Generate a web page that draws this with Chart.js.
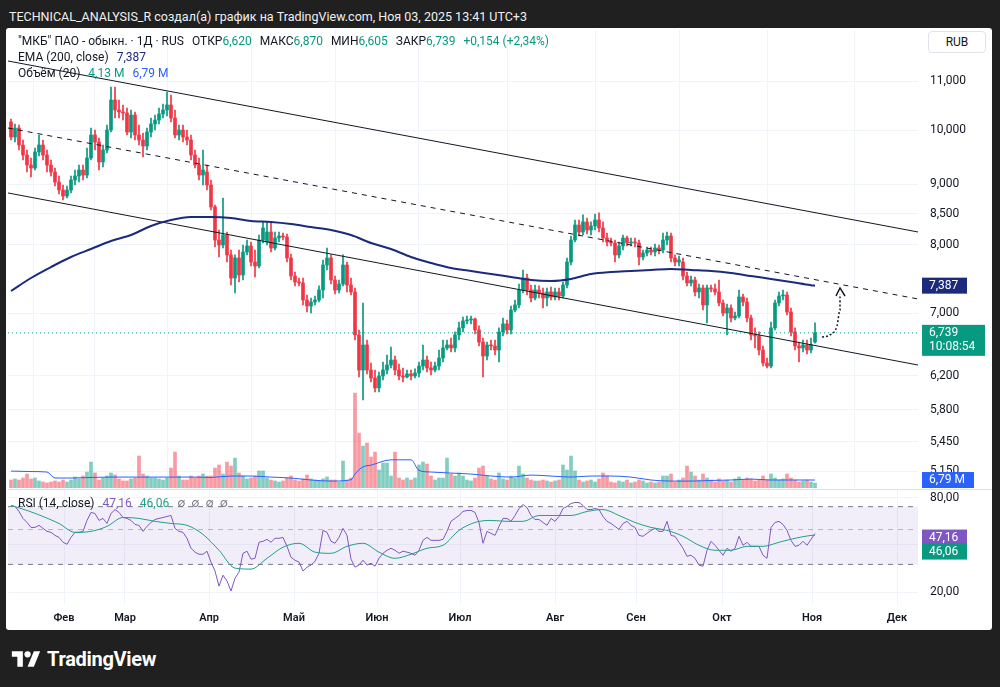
<!DOCTYPE html>
<html lang="ru">
<head>
<meta charset="utf-8">
<title>МКБ - TradingView</title>
<script src="https://cdn.jsdelivr.net/npm/chart.js@4.4.1/dist/chart.umd.min.js"></script>
<style>
body{margin:0;width:1000px;height:687px;background:#202020;overflow:hidden;position:relative;font-family:Roboto,Inter,"Noto Sans",Arial,sans-serif}
#hdr{position:absolute;left:9px;top:9px;color:#f0f0f0;font-size:12.5px;white-space:nowrap}
#panel{position:absolute;left:6px;top:28px;width:986px;height:602px;background:#fff;border-radius:3px}
canvas{position:absolute;left:8px}
#pc{top:28px}
#rc{top:489px}
.lg{position:absolute;left:18px;font-size:12px;color:#131722;white-space:nowrap;line-height:16px}
.sp{display:inline-block;width:8px}
#rub{position:absolute;left:928px;top:31px;width:58px;height:22px;border:1px solid #e0e3eb;border-radius:4px;box-sizing:border-box;font-size:12px;color:#131722;text-align:center;line-height:20px;background:#fff}
#logo{position:absolute;left:11px;top:647px;color:#fff;font-size:20px;font-weight:700;display:flex;align-items:center;gap:6px;letter-spacing:-0.3px}
</style>
</head>
<body>
<div id="hdr">TECHNICAL_ANALYSIS_R создал(а) график на TradingView.com, Ноя 03, 2025 13:41 UTC+3</div>
<div id="panel"></div>
<canvas id="pc" width="984" height="461"></canvas>
<canvas id="rc" width="984" height="141"></canvas>
<div class="lg" style="top:33px" id="lg1"></div>
<div class="lg" style="top:49px" id="lg2"></div>
<div class="lg" style="top:65px" id="lg3"></div>
<div class="lg" style="top:495px" id="lg4"></div>
<div id="rub">RUB</div>
<div id="logo"><svg width="30" height="22" viewBox="0 0 36 28"><path d="M14 24H7V11H0V4h14z" fill="#fff"/><circle cx="20" cy="8" r="4" fill="#fff"/><path d="M28 4l-8 20h8L36 4z" fill="#fff"/></svg>TradingView</div>
<script>
// daily candles, MKB (RUB)
var opens = [
 10.157,9.865,10.039,9.712,9.525,9.342,9.288,9.581,9.712,9.525,
 9.342,9.215,9.038,8.898,8.795,8.898,9.073,9.144,9.251,9.162,
 9.470,9.904,9.769,9.397,9.618,10.000,10.601,10.397,10.357,10.337,
 9.961,10.296,9.904,9.807,9.694,9.961,10.118,10.196,10.317,10.397,
 10.499,10.236,9.904,10.000,9.865,9.807,9.525,9.342,9.162,9.215,
 8.986,8.609,8.073,7.995,8.152,7.842,7.498,7.796,7.542,7.887,
 7.980,7.735,7.675,8.073,8.042,8.200,7.949,8.105,8.136,8.121,
 7.796,7.527,7.440,7.426,7.184,7.101,7.156,7.184,7.325,7.690,
 7.796,7.469,7.325,7.411,7.690,7.397,7.297,6.712,6.269,6.582,
 6.269,6.172,6.054,6.197,6.269,6.330,6.392,6.269,6.197,6.184,
 6.221,6.197,6.233,6.318,6.392,6.294,6.269,6.318,6.417,6.544,
 6.582,6.544,6.712,6.804,6.897,6.910,6.923,6.777,6.620,6.442,
 6.582,6.569,6.518,6.751,6.857,6.777,7.045,7.115,7.325,7.498,
 7.325,7.212,7.325,7.283,7.212,7.297,7.226,7.297,7.240,7.397,
 7.735,8.073,8.313,8.200,8.362,8.232,8.297,8.394,8.264,8.105,
 8.042,8.026,7.842,7.980,8.105,8.026,8.042,8.026,7.811,7.872,
 7.918,7.887,7.949,7.918,8.073,8.136,7.796,7.735,7.735,7.527,
 7.426,7.469,7.297,7.354,7.115,7.354,7.340,7.297,7.142,7.004,
 7.073,6.937,6.964,7.226,7.156,6.937,6.712,6.698,6.518,6.355,
 6.318,6.804,7.142,7.240,7.254,7.018,6.751,6.569,6.544,6.582,
 6.518,6.620];
var highs = [
 10.216,10.118,10.098,9.807,9.618,9.470,9.656,9.904,9.807,9.618,
 9.433,9.288,9.144,8.986,8.968,9.144,9.251,9.342,9.342,9.656,
 10.039,10.000,9.846,9.712,10.098,10.873,10.873,10.601,10.499,10.438,
 10.397,10.357,10.098,9.942,10.039,10.236,10.296,10.438,10.519,10.767,
 10.705,10.397,10.098,10.098,10.000,9.904,9.618,9.470,9.618,9.342,
 9.073,8.643,8.232,8.761,8.200,7.918,7.842,7.918,7.995,8.073,
 8.042,7.918,8.152,8.362,8.362,8.362,8.200,8.200,8.184,8.168,
 7.857,7.586,7.498,7.498,7.254,7.212,7.240,7.383,7.765,7.949,
 7.842,7.527,7.469,7.842,7.735,7.498,7.354,6.777,7.142,6.646,
 6.355,6.269,6.245,6.367,6.455,6.556,6.442,6.343,6.294,6.269,
 6.269,6.282,6.367,6.582,6.442,6.367,6.367,6.518,6.646,6.646,
 6.672,6.751,6.883,6.950,6.964,6.964,6.937,6.830,6.672,6.620,
 6.646,6.646,6.804,6.937,6.910,7.101,7.184,7.411,7.615,7.556,
 7.397,7.397,7.383,7.354,7.354,7.368,7.354,7.354,7.440,7.796,
 8.136,8.394,8.394,8.477,8.427,8.362,8.493,8.510,8.362,8.184,
 8.105,8.073,8.042,8.152,8.136,8.105,8.105,8.073,7.918,7.964,
 7.964,8.011,7.995,8.184,8.200,8.184,7.842,7.826,7.796,7.586,
 7.527,7.513,7.411,7.397,7.397,7.397,7.411,7.469,7.184,7.128,
 7.115,7.018,7.325,7.268,7.212,6.977,6.804,6.751,6.569,6.417,
 6.883,7.184,7.297,7.325,7.297,7.073,6.804,6.620,6.646,6.646,
 6.672,6.870];
var lows = [
 9.807,9.769,9.618,9.433,9.215,9.126,9.251,9.507,9.433,9.215,
 9.144,8.968,8.830,8.727,8.761,8.847,8.986,9.038,9.073,9.109,
 9.433,9.618,9.251,9.306,9.562,9.961,10.236,10.236,10.196,9.904,
 9.846,9.807,9.712,9.488,9.618,9.865,10.000,10.118,10.236,10.276,
 10.157,9.846,9.807,9.769,9.712,9.433,9.288,9.073,8.986,8.898,
 8.559,7.964,7.811,7.949,7.735,7.397,7.283,7.440,7.469,7.842,
 7.675,7.513,7.645,8.026,7.995,7.887,7.918,8.042,8.073,7.735,
 7.469,7.383,7.383,7.115,7.018,7.004,7.115,7.156,7.212,7.615,
 7.411,7.268,7.283,7.383,7.297,7.254,6.646,6.184,5.914,6.221,
 6.124,6.007,6.007,6.148,6.221,6.294,6.209,6.148,6.124,6.172,
 6.148,6.172,6.184,6.269,6.245,6.209,6.245,6.269,6.367,6.518,
 6.493,6.493,6.646,6.751,6.857,6.857,6.725,6.569,6.184,6.392,
 6.518,6.455,6.367,6.698,6.725,6.725,7.018,7.073,7.283,7.254,
 7.156,7.184,7.212,7.073,7.101,7.184,7.184,7.184,7.212,7.354,
 7.690,8.042,8.136,8.152,8.168,8.152,8.232,8.200,8.042,7.980,
 7.980,7.735,7.796,7.918,7.980,7.980,7.964,7.690,7.765,7.826,
 7.842,7.826,7.857,7.872,7.995,7.735,7.675,7.675,7.469,7.383,
 7.383,7.240,7.212,7.045,6.870,7.297,7.254,7.101,6.964,6.712,
 6.883,6.910,6.937,7.101,6.883,6.646,6.544,6.455,6.318,6.294,
 6.294,6.777,7.101,7.184,6.977,6.698,6.518,6.367,6.493,6.468,
 6.480,6.605];
var closes = [
 9.865,10.039,9.712,9.525,9.342,9.288,9.581,9.712,9.525,9.342,
 9.215,9.038,8.898,8.795,8.898,9.073,9.144,9.251,9.162,9.470,
 9.904,9.769,9.397,9.618,10.000,10.601,10.397,10.357,10.337,9.961,
 10.296,9.904,9.807,9.694,9.961,10.118,10.196,10.317,10.397,10.499,
 10.236,9.904,10.000,9.865,9.807,9.525,9.342,9.162,9.251,8.986,
 8.609,8.073,7.995,8.152,7.842,7.498,7.796,7.542,7.887,7.980,
 7.735,7.675,8.073,8.264,8.200,7.949,8.105,8.136,8.121,7.796,
 7.527,7.440,7.426,7.184,7.101,7.156,7.184,7.325,7.690,7.796,
 7.469,7.325,7.411,7.690,7.397,7.297,6.712,6.269,6.582,6.269,
 6.172,6.054,6.197,6.269,6.330,6.392,6.269,6.197,6.184,6.221,
 6.197,6.233,6.318,6.392,6.294,6.269,6.318,6.417,6.544,6.582,
 6.544,6.712,6.804,6.897,6.910,6.923,6.777,6.620,6.442,6.582,
 6.569,6.518,6.751,6.857,6.777,7.045,7.115,7.325,7.498,7.325,
 7.212,7.325,7.283,7.212,7.297,7.226,7.297,7.240,7.397,7.735,
 8.073,8.313,8.200,8.362,8.232,8.297,8.394,8.264,8.105,8.042,
 8.026,7.842,7.980,8.105,8.026,8.042,8.026,7.811,7.872,7.918,
 7.887,7.949,7.918,8.073,8.136,7.796,7.735,7.765,7.527,7.426,
 7.469,7.297,7.354,7.115,7.354,7.340,7.297,7.142,7.004,7.073,
 6.937,6.964,7.226,7.156,6.937,6.712,6.698,6.518,6.355,6.318,
 6.804,7.142,7.240,7.254,7.018,6.751,6.569,6.544,6.582,6.518,
 6.585,6.739];
// volume, millions
var volumes = [
 6.8,7.7,6.8,8.5,11.9,7.7,8.5, 6.0,5.1,4.3,5.1,6.0,5.1,6.8,
 5.1,6.8,9.4,7.7,10.2,13.6,22.1, 12.8,6.8,8.5,10.2,12.8,11.1,7.7,6.0,
 6.0,7.7,8.5,27.2,11.9,10.2,8.5, 8.5,7.7,6.8,8.5,17.0,30.6,10.2,
 6.8,6.8,10.2,8.5,10.2,11.9,10.2, 10.2,17.0,19.6,11.9,22.1,18.7,25.5,
 12.8,10.2,7.7,8.5,10.2,14.5,14.5, 8.5,6.8,6.0,5.1,6.0,8.5,10.2,
 6.8,6.0,7.7,11.1,7.7,6.8,6.0, 7.7,9.4,6.8,6.8,5.1,23.0,6.8,8.5,
 80.8,46.8,35.7,38.3,26.4,30.6, 15.3,21.3,21.3,10.2,30.6,8.5,6.8,8.5,
 6.8,8.5,19.6,22.1,20.4,10.2,6.8, 8.5,8.5,25.5,11.9,10.2,12.8,10.2,
 6.8,6.0,8.5,17.0,18.7,10.2,7.7, 6.8,12.8,7.7,6.8,10.2,8.5,18.7,
 11.9,8.5,6.8,6.0,6.0,6.8,6.0, 5.1,6.0,6.8,19.6,15.3,27.2,14.5,
 6.8,5.1,6.0,6.8,5.1,7.7,12.8, 10.2,5.1,4.3,6.0,5.1,6.8,4.3,5.1,
 6.8,6.0,4.3,5.1,4.3,5.1,10.2, 10.2,11.9,5.1,6.8,8.5,18.7,13.6,
 10.2,6.8,11.9,8.5,6.8,5.1,7.7, 6.0,6.8,5.1,7.7,9.4,6.8,8.5,
 7.7,6.0,6.8,10.2,6.8,11.9,8.5, 6.8,7.7,11.9,8.5,6.8,5.1,6.0,
 6.8,5.1,4.13];

// EMA(200) sampled along the line
var emaIdx = [0,5,10,15,20,25,30,35,40,45,50,55,60,65,70,75,80,85,90,95,100,105,110,115,120,125,130,135,140,145,150,155,160,165,170,175,180,185,190,195,200,201];
var emaVals = [7.311,7.498,7.660,7.811,7.933,8.057,8.152,8.297,8.394,8.443,
 8.443,8.427,8.378,8.362,8.329,8.280,8.232,8.152,8.026,7.933,
 7.811,7.720,7.645,7.601,7.556,7.513,7.469,7.455,7.484,7.556,
 7.586,7.601,7.615,7.630,7.615,7.601,7.571,7.527,7.484,7.440,
 7.394,7.387];

// volume SMA(20)
var volMaIdx = [0,5,9,11,15,20,25,30,35,40,45,50,55,60,65,70,75,80,85,86,88,90,95,100,102,105,110,115,120,125,130,135,140,145,150,155,160,165,170,175,180,185,190,195,200,201];
var volMaVals = [14.4,14.0,13.6,8.5,8.5,9.0,9.3,9.3,9.3,9.3,9.3,9.0,10.2,10.2,9.3,8.5,6.8,5.9,7.0,12,18,19.5,24,24,15,13.6,12.7,11.9,10.2,9.3,11.0,10.2,9.3,10.2,10.2,9.3,6.8,5.9,5.9,6.4,6.8,7.6,6.8,6.8,6.8,6.79];

// RSI(14) per bar
var rsiVals = [
 71.2,70.2,65.2,58.9,55.5,51.6,51.6,53.2,50.9,48.7,
 48.0,45.9,44.6,41.5,40.3,44.6,48.0,48.0,48.7,57.2,
 64.3,63.3,57.2,58.9,54.7,63.3,67.1,64.3,59.7,58.9,
 57.2,53.9,53.2,48.7,52.4,55.5,58.0,58.9,59.7,60.6,
 61.5,50.9,48.7,48.0,44.0,38.0,35.9,34.8,34.8,36.4,
 31.0,27.2,21.8,25.6,23.5,20.3,24.5,26.8,35.3,36.4,
 32.4,32.8,41.5,42.1,43.3,41.5,44.0,44.0,44.6,39.1,
 33.3,31.9,31.0,27.2,28.8,29.7,31.4,35.3,49.4,48.0,
 42.1,40.9,44.6,50.9,45.9,32.4,28.8,29.7,31.9,29.7,
 30.5,29.2,32.8,35.3,36.9,38.0,36.9,35.3,36.4,35.9,
 35.3,34.3,36.9,42.7,44.6,42.7,42.7,42.7,43.3,48.7,
 56.4,58.9,61.5,65.2,66.2,66.2,64.3,55.5,40.9,48.7,
 47.3,45.9,52.4,58.9,58.9,56.4,61.5,68.1,72.2,69.1,
 61.5,58.0,58.0,55.5,53.2,58.9,56.4,60.6,68.1,70.2,
 73.3,74.4,74.4,71.2,67.1,67.1,68.1,67.1,60.6,56.4,
 54.7,52.4,50.1,54.7,56.4,53.2,51.6,45.9,45.3,47.3,
 49.4,50.9,48.7,48.7,56.4,45.9,45.3,41.5,38.0,33.8,
 34.3,32.8,29.7,29.2,36.9,42.1,39.7,36.9,34.3,38.0,
 36.4,38.0,45.3,39.7,41.5,39.1,39.1,39.1,34.3,32.8,
 51.6,55.5,56.4,53.9,49.4,42.7,39.1,39.7,42.1,39.7,
 43.3,47.16];
var rsiMaIdx = [0,4,8,12,16,20,24,28,32,36,40,44,48,52,56,60,64,68,72,76,80,84,88,92,96,100,104,108,112,116,120,124,128,132,136,140,144,148,152,156,160,164,168,172,176,180,184,188,192,196,200,201];
var rsiMaVals = [71.2,66.2,60.6,54.7,48.0,48.7,52.4,59.7,58.9,56.4,
 54.7,53.2,46.6,36.9,28.4,28.0,32.8,38.6,40.9,35.9,
 35.3,39.1,40.9,35.9,32.8,34.8,38.0,39.7,49.4,55.5,
 57.2,56.4,56.4,61.5,61.5,61.5,65.2,67.1,61.5,55.5,
 51.6,49.4,45.3,39.7,36.9,36.9,39.1,39.1,41.5,44.0,
 45.9,46.06];
var rsiBands = [70, 50, 30];

// drawn channel (start/end bar index and price)
var upperLine = [[-0.75, 11.437], [226.75, 8.200]];
var middleLine = [[-0.75, 10.039], [226.75, 7.198]];
var lowerLine = [[-0.75, 8.847], [226.75, 6.330]];
var arrowPath = [[202.75, 6.685], [204.75, 6.712], [206.5, 6.830], [207.25, 7.045], [207.25, 7.268]];
var arrowHead = [[206.25, 7.240], [207.25, 7.354], [208.5, 7.240]];

var monthTicks = [13.25, 28.5, 49.5, 70.75, 91.5, 112.25, 136, 156.25, 177.75, 200.25, 221.5];
var monthLabels = ["Фев","Мар","Апр","Май","Июн","Июл","Авг","Сен","Окт","Ноя","Дек"];
var priceTicks = [11, 10, 9, 8.5, 8, 7, 6.2, 5.8, 5.45, 5.15];
var rsiTicks = [80, 40, 20];

var UP = '#089981', DOWN = '#f23645', NAVY = '#1b2a7c', VBLUE = '#2962ff', PURPLE = '#7e57c2', TEAL = '#22a08a';
var GRID = '#f0f3fa';
var X_MIN = -0.75, X_MAX = 226.75;
var FONT = 'Roboto, Inter, "Noto Sans", sans-serif';

function fmt(v, d) { return v.toFixed(d).replace('.', ','); }
function pts(ix, vals) { return ix.map(function (x, k) { return {x: x, y: vals[k]}; }); }
function pairs(arr) { return arr.map(function (p) { return {x: p[0], y: p[1]}; }); }

var N = closes.length, L = N - 1;
var isUp = closes.map(function (c, i) { return c >= opens[i]; });
var candleCol = isUp.map(function (u) { return u ? UP : DOWN; });
var volCol = isUp.map(function (u) { return u ? 'rgba(8,153,129,0.5)' : 'rgba(242,54,69,0.5)'; });

// legend
var chg = closes[L] - closes[L - 1];
var gc = chg >= 0 ? UP : DOWN;
function c(col, t) { return '<span style="color:' + col + '">' + t + '</span>'; }
var sp = '<span class="sp"></span>';
document.getElementById('lg1').innerHTML = '"МКБ" ПАО - обыкн. · 1Д · RUS' + sp +
  'ОТКР' + c(gc, fmt(opens[L], 3)) + sp + 'МАКС' + c(gc, fmt(highs[L], 3)) + sp +
  'МИН' + c(gc, fmt(lows[L], 3)) + sp + 'ЗАКР' + c(gc, fmt(closes[L], 3)) + sp +
  c(gc, '+' + fmt(chg, 3) + ' (+' + fmt(chg / closes[L - 1] * 100, 2) + '%)');
document.getElementById('lg2').innerHTML = 'EMA (200, close)' + sp + c(NAVY, fmt(emaVals[emaVals.length - 1], 3));
document.getElementById('lg3').innerHTML = 'Объём (20)' + sp + c(gc, fmt(volumes[L], 2) + ' M') + sp + c(VBLUE, fmt(volMaVals[volMaVals.length - 1], 2) + ' M');
document.getElementById('lg4').innerHTML = 'RSI (14, close)' + sp + c(PURPLE, fmt(rsiVals[L], 2)) + sp + c(TEAL, fmt(rsiMaVals[rsiMaVals.length - 1], 2)) + sp + c('#787b86', '∅&nbsp;&nbsp;∅&nbsp;&nbsp;∅&nbsp;&nbsp;∅');

Chart.defaults.font.family = FONT;
Chart.defaults.font.size = 12;
Chart.defaults.color = '#131722';

function xScale(labels) {
  return {
    type: 'linear', min: X_MIN, max: X_MAX, offset: false,
    afterBuildTicks: function (s) { s.ticks = monthTicks.map(function (v) { return {value: v}; }); },
    afterFit: function (s) { s.height = labels ? 25 : 0; },
    grid: {color: GRID, drawTicks: false},
    border: {display: false},
    ticks: {display: labels, autoSkip: false, maxRotation: 0, padding: 7, color: '#131722',
      font: {size: 11, weight: '600'},
      callback: function (v, i) { return monthLabels[i]; }}
  };
}

// right price axis; label gap made with an invisible tick so the plot area keeps its height
function yScale(type, min, max, ticks, dec) {
  return {type: type, position: 'right', min: min, max: max,
    afterBuildTicks: function (s) { s.ticks = ticks.map(function (v) { return {value: v}; }); },
    afterFit: function (s) { s.width = 74; },
    grid: {color: GRID, drawTicks: true, tickLength: 12, tickColor: 'rgba(0,0,0,0)'},
    border: {display: false},
    ticks: {autoSkip: false, padding: 0, font: {size: 12, lineHeight: 0.1},
      callback: function (v) { return fmt(v, dec); }}};
}

function tag(ctx, x, y, w, bg, text, sub) {
  var h = sub ? 31 : 16;
  ctx.fillStyle = bg;
  ctx.fillRect(x, y - 8, w, h);
  ctx.fillStyle = '#fff';
  ctx.font = '12px ' + FONT;
  ctx.textAlign = 'left';
  ctx.textBaseline = 'middle';
  ctx.fillText(text, x + 7, y);
  if (sub) ctx.fillText(sub, x + 7, y + 14);
}

var priceTags = {
  id: 'priceTags',
  afterDraw: function (ch) {
    var ctx = ch.ctx, x = ch.chartArea.right + 4;
    var y = ch.scales.y, yv = ch.scales.yv;
    ctx.save();
    tag(ctx, x, y.getPixelForValue(emaVals[emaVals.length - 1]), 45, NAVY, fmt(emaVals[emaVals.length - 1], 3));
    tag(ctx, x, y.getPixelForValue(closes[L]), 63, UP, fmt(closes[L], 3), '10:08:54');
    tag(ctx, x, yv.getPixelForValue(volMaVals[volMaVals.length - 1]), 52, VBLUE, fmt(volMaVals[volMaVals.length - 1], 2) + ' M');
    ctx.restore();
  }
};

var rsiTags = {
  id: 'rsiTags',
  afterDraw: function (ch) {
    var ctx = ch.ctx, x = ch.chartArea.right + 4;
    var y0 = ch.scales.y.getPixelForValue(rsiVals[L]);
    ctx.save();
    ctx.strokeStyle = '#e0e3eb';
    ctx.beginPath(); ctx.moveTo(0, 0.5); ctx.lineTo(ch.width, 0.5); ctx.stroke();
    tag(ctx, x, y0 + 4, 45, PURPLE, fmt(rsiVals[L], 2));
    tag(ctx, x, y0 + 18, 45, '#089981', fmt(rsiMaVals[rsiMaVals.length - 1], 2));
    ctx.restore();
  }
};

function lineDs(data, col, w, dash, order) {
  return {type: 'line', data: data, borderColor: col, borderWidth: w, borderDash: dash || [],
    pointRadius: 0, fill: false, order: order, tension: 0};
}

new Chart(document.getElementById('pc'), {
  type: 'bar',
  data: {datasets: [
    {label: 'vol', yAxisID: 'yv', data: volumes.map(function (v, i) { return {x: i, y: v}; }),
      backgroundColor: volCol, barThickness: 3, grouped: false, order: 20},
    {label: 'wick', data: highs.map(function (h, i) { return {x: i, y: [lows[i], h]}; }),
      backgroundColor: candleCol, barThickness: 1, grouped: false, order: 10},
    {label: 'body', data: opens.map(function (o, i) { return {x: i, y: [o, closes[i]]}; }),
      backgroundColor: candleCol, barThickness: 3, minBarLength: 1, grouped: false, order: 9},
    Object.assign(lineDs(pts(volMaIdx, volMaVals), VBLUE, 1, null, 15), {yAxisID: 'yv', cubicInterpolationMode: 'monotone'}),
    Object.assign(lineDs(pts(emaIdx, emaVals), NAVY, 2, null, 3), {cubicInterpolationMode: 'monotone'}),
    lineDs(pairs(upperLine), '#131722', 1, null, 5),
    lineDs(pairs(middleLine), '#131722', 1, [5, 5], 5),
    lineDs(pairs(lowerLine), '#131722', 1, null, 5),
    lineDs([{x: X_MIN, y: closes[L]}, {x: X_MAX, y: closes[L]}], UP, 1, [1, 3], 6),
    Object.assign(lineDs(pairs(arrowPath), '#131722', 1.5, [2, 2], 2), {cubicInterpolationMode: 'monotone'}),
    lineDs(pairs(arrowHead), '#131722', 1.5, null, 2)
  ]},
  options: {
    responsive: false, animation: false,
    layout: {padding: {top: 2, bottom: 1, left: 0, right: 0}},
    plugins: {legend: {display: false}, tooltip: {enabled: false}},
    scales: {
      x: xScale(false),
      y: yScale('logarithmic', 4.983, 12.148, priceTicks, 3),
      yv: {type: 'linear', display: false, min: 0, max: 390}
    }
  },
  plugins: [priceTags]
});

function band(v, col) { return lineDs([{x: X_MIN, y: v}, {x: X_MAX, y: v}], col, 1, [5, 5], 5); }

new Chart(document.getElementById('rc'), {
  type: 'line',
  data: {datasets: [
    Object.assign(band(rsiBands[0], '#787b86'), {fill: 2, backgroundColor: 'rgba(126,87,194,0.1)'}),
    band(rsiBands[1], 'rgba(120,123,134,0.5)'),
    band(rsiBands[2], '#787b86'),
    lineDs(rsiVals.map(function (v, i) { return {x: i, y: v}; }), PURPLE, 1, null, 2),
    Object.assign(lineDs(pts(rsiMaIdx, rsiMaVals), TEAL, 1, null, 1), {cubicInterpolationMode: 'monotone'})
  ]},
  options: {
    responsive: false, animation: false,
    layout: {padding: {top: 0, bottom: 0, left: 0, right: 0}},
    plugins: {legend: {display: false}, tooltip: {enabled: false}},
    scales: {
      x: xScale(true),
      y: yScale('logarithmic', 16.53, 89.9, rsiTicks, 2)
    }
  },
  plugins: [rsiTags]
});
</script>
</body>
</html>
